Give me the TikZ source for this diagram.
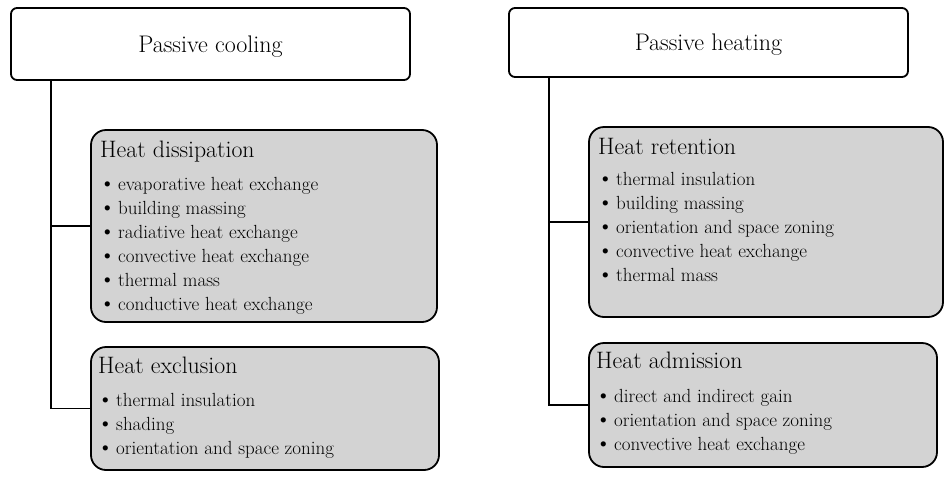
\documentclass[tikz,border=0pt]{standalone}
\definecolor{boxgray}{RGB}{211,211,211}
\tikzset{
 topbox/.style={draw, line width=1.8pt, rounded corners=6pt, fill=white, inner sep=0pt},
 subbox/.style={draw, line width=1.8pt, rounded corners=15pt, fill=boxgray, inner sep=0pt},
 conn/.style={line width=1.8pt},
 ttl/.style={font=\fontsize{24}{28}\selectfont, anchor=base, inner sep=0pt},
 hdg/.style={font=\fontsize{23.8}{28}\selectfont, anchor=base west, inner sep=0pt},
 itm/.style={font=\fontsize{19}{22}\selectfont, anchor=base west, inner sep=0pt},
}
\newcommand{\bitem}[1]{\makebox[16pt][l]{\hspace{-3pt}\raisebox{-0.6pt}{\fontsize{23}{23}\selectfont\textbullet}}#1}
\begin{document}
\begin{tikzpicture}[x=1pt,y=-1pt]
\useasboundingbox (0,0) rectangle (950,477);
% top boxes
\node[topbox, minimum width=399pt, minimum height=72pt] (pc) at (210.5,44) {};
\node[topbox, minimum width=399pt, minimum height=69pt] (ph) at (708.5,42.5) {};
\node[ttl] (pct) at (210.5,52) {Passive cooling};
\node[ttl] (pht) at (708.5,50) {Passive heating};
% sub boxes
\node[subbox, minimum width=346pt, minimum height=192pt] (hd) at (264,226) {};
\node[subbox, minimum width=348pt, minimum height=123pt] (hx) at (265,408.5) {};
\node[subbox, minimum width=354pt, minimum height=190pt] (hr) at (766,222) {};
\node[subbox, minimum width=348pt, minimum height=124pt] (ha) at (763,405) {};
% connectors
\coordinate (lc) at (51,0);
\coordinate (rc) at (549,0);
\draw[conn] (pc.south -| lc) |- (hx.west);
\draw[conn] (lc |- hd.west) -- (hd.west);
\draw[conn] (ph.south -| rc) |- (ha.west);
\draw[conn] (rc |- hr.west) -- (hr.west);
% heat dissipation
\node[hdg] (hdh) at (100,157) {Heat dissipation};
\node[itm] (hd1) at (102,190) {\bitem{evaporative heat exchange}};
\node[itm] (hd2) at (102,214) {\bitem{building massing}};
\node[itm] (hd3) at (102,238) {\bitem{radiative heat exchange}};
\node[itm] (hd4) at (102,262) {\bitem{convective heat exchange}};
\node[itm] (hd5) at (102,286) {\bitem{thermal mass}};
\node[itm] (hd6) at (102,310) {\bitem{conductive heat exchange}};
% heat exclusion
\node[hdg] (hxh) at (98,373) {Heat exclusion};
\node[itm] (hx1) at (100,406) {\bitem{thermal insulation}};
\node[itm] (hx2) at (100,430) {\bitem{shading}};
\node[itm] (hx3) at (100,454) {\bitem{orientation and space zoning}};
% heat retention
\node[hdg] (hrh) at (598,154) {Heat retention};
\node[itm] (hr1) at (600,185) {\bitem{thermal insulation}};
\node[itm] (hr2) at (600,209) {\bitem{building massing}};
\node[itm] (hr3) at (600,233) {\bitem{orientation and space zoning}};
\node[itm] (hr4) at (600,257) {\bitem{convective heat exchange}};
\node[itm] (hr5) at (600,281) {\bitem{thermal mass}};
% heat admission
\node[hdg] (hah) at (596,368) {Heat admission};
\node[itm] (ha1) at (598,402) {\bitem{direct and indirect gain}};
\node[itm] (ha2) at (598,426) {\bitem{orientation and space zoning}};
\node[itm] (ha3) at (598,450) {\bitem{convective heat exchange}};
\end{tikzpicture}
\end{document}
